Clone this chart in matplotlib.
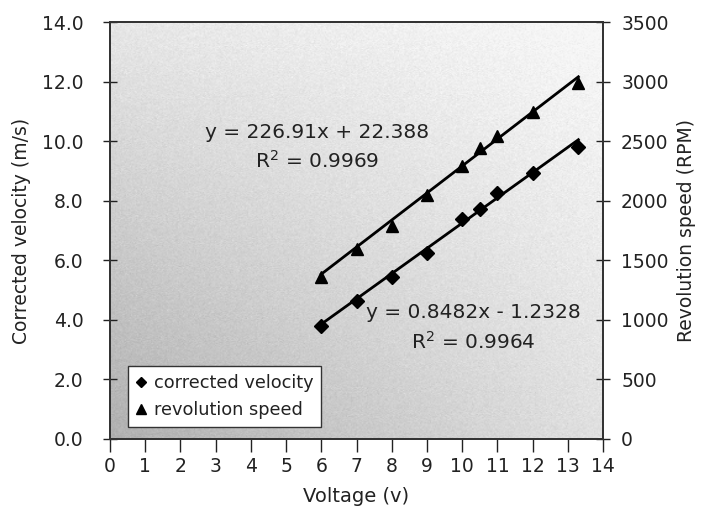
import numpy as np
import matplotlib
matplotlib.use("Agg")
from matplotlib import pyplot as plt
from matplotlib.colors import LinearSegmentedColormap

# measured points
voltage = [6, 7, 8, 9, 10, 10.5, 11, 12, 13.3]
velocity = [3.80, 4.63, 5.45, 6.23, 7.39, 7.71, 8.25, 8.94, 9.80]
rpm = [1360, 1595, 1790, 2050, 2290, 2440, 2545, 2745, 2985]

# linear fits (slope, intercept, r2)
vel_fit = (0.8482, -1.2328, 0.9964)
rpm_fit = (226.91, 22.388, 0.9969)

x_ticks = list(range(0, 15))
vel_ticks = [0, 2, 4, 6, 8, 10, 12, 14]
rpm_ticks = [0, 500, 1000, 1500, 2000, 2500, 3000, 3500]

plt.rcParams['font.family'] = ['DejaVu Sans']
txt = "#222222"

fig = plt.figure(figsize=(7.03, 5.12), dpi=100)
ax = fig.add_axes([0.1565, 0.1426, 0.7013, 0.8144])

# shaded plot area: light at the top right, darker toward the lower left
gx, gy = np.meshgrid(np.linspace(0, 1, 400), np.linspace(0, 1, 400))
shade = 0.29 * (1 - gx) * (1 - gy) + 0.17 * (1 - gx) + 0.23 * (1 - gy)
grain = np.random.default_rng(3).normal(0, 0.04, shade.shape)
shade = np.clip(shade + grain, 0, 1)
cmap = LinearSegmentedColormap.from_list("bg", ["#f8f8f8", "#909090"])
ax.imshow(shade, extent=[0, 14, 0, 14], origin="lower", cmap=cmap,
          aspect="auto", zorder=0, vmin=0, vmax=1, interpolation="bilinear")

ax2 = ax.twinx()

xs = np.array([voltage[0], voltage[-1]])
ax.plot(xs, vel_fit[0] * xs + vel_fit[1], color="black", lw=2, zorder=3)
ax.plot(voltage, velocity, "D", color="black", ms=7, zorder=4, label="corrected velocity")
ax2.plot(xs, rpm_fit[0] * xs + rpm_fit[1], color="black", lw=2, zorder=3)
ax2.plot(voltage, rpm, "^", color="black", ms=9, zorder=4, label="revolution speed")

ax.set_xlim(0, 14)
ax.set_ylim(0, 14)
ax2.set_ylim(0, 3500)
ax.set_xticks(x_ticks)
ax.set_yticks(vel_ticks)
ax.set_yticklabels([f"{v:.1f}" for v in vel_ticks])
ax2.set_yticks(rpm_ticks)
ax2.set_yticklabels([str(v) for v in rpm_ticks])

for a in (ax, ax2):
    for s in a.spines.values():
        s.set_color("#333333")
        s.set_linewidth(1.3)
    a.tick_params(labelsize=13.5, colors=txt)
ax.tick_params(axis="x", direction="out", length=9, width=1, pad=4)
ax.tick_params(axis="y", direction="inout", length=10, width=1, pad=14)
ax2.tick_params(axis="y", direction="inout", length=10, width=1, pad=8)

ax.set_xlabel("Voltage (v)", fontsize=14, color=txt, labelpad=8)
ax.set_ylabel("Corrected velocity (m/s)", fontsize=13.5, color=txt, labelpad=8)
ax2.set_ylabel("Revolution speed (RPM)", fontsize=13.5, color=txt, labelpad=6)

ax.text(5.89, 9.8, f"y = {rpm_fit[0]}x + {rpm_fit[1]}\nR$^2$ = {rpm_fit[2]}",
        ha="center", va="center", fontsize=14.5, linespacing=1.45, color=txt, zorder=5)
ax.text(10.33, 3.73, f"y = {vel_fit[0]}x - {abs(vel_fit[1])}\nR$^2$ = {vel_fit[2]}",
        ha="center", va="center", fontsize=14.5, linespacing=1.45, color=txt, zorder=5)

h1, l1 = ax.get_legend_handles_labels()
h2, l2 = ax2.get_legend_handles_labels()
leg = ax2.legend(h1 + h2, l1 + l2, loc="lower left", bbox_to_anchor=(0.0365, 0.029),
                 borderaxespad=0, fontsize=12.8, frameon=True, fancybox=False,
                 framealpha=1, edgecolor="#333333", handlelength=0.6,
                 handletextpad=0.4, borderpad=0.45, labelspacing=0.5, markerscale=0.8)
leg.get_frame().set_linewidth(1)
for t in leg.get_texts():
    t.set_color(txt)

fig.savefig("out.png", dpi=100)
